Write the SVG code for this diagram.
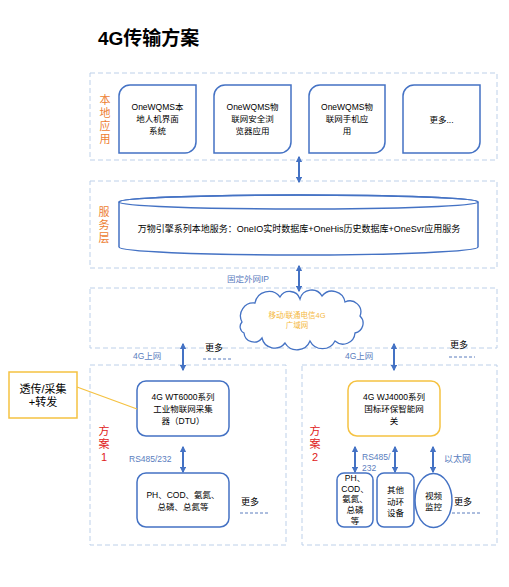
<svg xmlns="http://www.w3.org/2000/svg" width="509" height="587" viewBox="0 0 509 587">
<style>
text{font-family:"Liberation Sans","Noto Sans CJK SC",sans-serif;}
.t{font-size:8.5px;fill:#000;text-anchor:middle;}
.lbl{font-size:11px;fill:#ED7D31;text-anchor:middle;}
.red{font-size:11px;fill:#E02020;text-anchor:middle;}
.blue{font-size:8.5px;fill:#5A7DBE;}
.more{font-size:9px;fill:#000;}
.cont{fill:none;stroke:#BDD0E9;stroke-width:1;stroke-dasharray:5 3;}
.box{fill:#fff;stroke:#4472C4;stroke-width:1.5;}
.ybox{fill:#fff;stroke:#F5C242;stroke-width:1.5;}
.conn{stroke:#4472C4;stroke-width:2;fill:none;marker-start:url(#ah);marker-end:url(#ah);}
.dash{stroke:#5A7DBE;stroke-width:1;stroke-dasharray:3 2;fill:none;}
</style>
<defs>
<marker id="ah" viewBox="0 0 10 10" refX="8" refY="5" markerWidth="3.2" markerHeight="3.2" orient="auto-start-reverse" markerUnits="strokeWidth">
<path d="M0,0 L10,5 L0,10 Z" fill="#4472C4"/>
</marker>
</defs>
<rect width="509" height="587" fill="#fff"/>
<text x="98" y="45" style="font-size:19px;font-weight:bold;fill:#000;">4G传输方案</text>

<g id="containers">
<rect class="cont" x="90" y="73" width="407" height="87"/>
<rect class="cont" x="90" y="181" width="407" height="87"/>
<rect class="cont" x="90" y="288" width="407" height="60"/>
<rect class="cont" x="90" y="365" width="196" height="180"/>
<rect class="cont" x="302" y="365" width="195" height="180"/>
</g>

<g id="labels">
<text class="lbl" x="105" y="104">本</text>
<text class="lbl" x="105" y="117">地</text>
<text class="lbl" x="105" y="130">应</text>
<text class="lbl" x="105" y="143">用</text>
<text class="lbl" x="104" y="216">服</text>
<text class="lbl" x="104" y="229">务</text>
<text class="lbl" x="104" y="242">层</text>
<text class="red" x="104" y="435">方</text>
<text class="red" x="104" y="448">案</text>
<text class="red" x="104" y="461">1</text>
<text class="red" x="315" y="435">方</text>
<text class="red" x="315" y="448">案</text>
<text class="red" x="315" y="461">2</text>
</g>

<g id="app1">
<path class="box" d="M119,96 A11,11 0 0 1 130,85 H196 V142 A11,11 0 0 1 185,153 H119 Z"/>
<text class="t" x="157.5" y="110">OneWQMS本</text>
<text class="t" x="157.5" y="122">地人机界面</text>
<text class="t" x="157.5" y="134">系统</text>
</g>
<g id="app2">
<path class="box" d="M214,96 A11,11 0 0 1 225,85 H291 V142 A11,11 0 0 1 280,153 H214 Z"/>
<text class="t" x="252.5" y="110">OneWQMS物</text>
<text class="t" x="252.5" y="122">联网安全浏</text>
<text class="t" x="252.5" y="134">览器应用</text>
</g>
<g id="app3">
<path class="box" d="M309,96 A11,11 0 0 1 320,85 H385 V142 A11,11 0 0 1 374,153 H309 Z"/>
<text class="t" x="347" y="110">OneWQMS物</text>
<text class="t" x="347" y="122">联网手机应</text>
<text class="t" x="347" y="134">用</text>
</g>
<g id="app4">
<path class="box" d="M403,96 A11,11 0 0 1 414,85 H480 V142 A11,11 0 0 1 469,153 H403 Z"/>
<text class="t" x="441.5" y="123">更多...</text>
</g>

<g id="service">
<path class="box" d="M119,202 A179.5,7 0 0 1 478,202 V247 A179.5,8 0 0 1 119,247 Z"/>
<ellipse cx="298.5" cy="202" rx="179.5" ry="7" fill="none" stroke="#4472C4" stroke-width="1.5"/>
<text class="t" x="299" y="232" style="font-size:9px;">万物引擎系列本地服务：OneIO实时数据库+OneHis历史数据库+OneSvr应用服务</text>
</g>

<g id="cloud">
<path fill="#fff" stroke="#4472C4" stroke-width="1.3" d="M242,322 A13,13 0 0 1 255,303 A14,14 0 0 1 280,297 A11,11 0 0 1 300,299 A12,12 0 0 1 322,296 A13,13 0 0 1 345,302 A11,11 0 0 1 360,316 A10,10 0 0 1 355,333 A12,12 0 0 1 335,341 A14,14 0 0 1 310,341 A14,14 0 0 1 285,343 A13,13 0 0 1 262,338 A10,10 0 0 1 244,333 A7,7 0 0 1 242,322 Z"/>
<text x="297" y="318" style="font-size:7.5px;fill:#F5B942;text-anchor:middle;">移动/联通电信4G</text>
<text x="297" y="328" style="font-size:7.5px;fill:#F5B942;text-anchor:middle;">广域网</text>
</g>

<g id="callout">
<rect x="9" y="372" width="68" height="46" fill="#fff" stroke="#F5C242" stroke-width="1.5"/>
<text x="43" y="393" style="font-size:11px;fill:#000;text-anchor:middle;">透传/采集</text>
<text x="43" y="406" style="font-size:11px;fill:#000;text-anchor:middle;">+转发</text>
</g>

<g id="dtu">
<rect class="box" x="137" y="381" width="92" height="55" rx="9"/>
<text class="t" x="183" y="400">4G WT6000系列</text>
<text class="t" x="183" y="412">工业物联网采集</text>
<text class="t" x="183" y="424">器（DTU）</text>
</g>
<g id="sensors1">
<rect class="box" x="137" y="473" width="92" height="54" rx="9"/>
<text class="t" x="183" y="498">PH、COD、氨氮、</text>
<text class="t" x="183" y="510">总磷、总氮等</text>
</g>

<g id="gateway">
<rect class="ybox" x="348" y="381" width="92" height="55" rx="9"/>
<text class="t" x="394" y="400">4G WJ4000系列</text>
<text class="t" x="394" y="412">国标环保智能网</text>
<text class="t" x="394" y="424">关</text>
</g>
<g id="sensors2">
<rect class="box" x="337" y="473" width="36" height="54" rx="7"/>
<text class="t" x="355" y="481">PH、</text>
<text class="t" x="355" y="492">COD、</text>
<text class="t" x="355" y="502">氨氮、</text>
<text class="t" x="355" y="513">总磷</text>
<text class="t" x="355" y="524">等</text>
</g>
<g id="other">
<rect class="box" x="377" y="473" width="37" height="54" rx="7"/>
<text class="t" x="395.5" y="493">其他</text>
<text class="t" x="395.5" y="505">动环</text>
<text class="t" x="395.5" y="516">设备</text>
</g>
<g id="video">
<ellipse class="box" cx="433.5" cy="500.5" rx="18.5" ry="27"/>
<text class="t" x="433.5" y="499">视频</text>
<text class="t" x="433.5" y="510">监控</text>
</g>

<g id="connectors">
<line class="conn" x1="299" y1="157" x2="299" y2="182"/>
<line class="conn" x1="299" y1="266" x2="299" y2="291"/>
<line class="conn" x1="183" y1="344" x2="183" y2="370"/>
<line class="conn" x1="394" y1="344" x2="394" y2="370"/>
<line class="conn" x1="183" y1="447" x2="183" y2="472"/>
<line class="conn" x1="355" y1="447" x2="355" y2="472"/>
<line class="conn" x1="395" y1="447" x2="395" y2="472"/>
<line class="conn" x1="433" y1="447" x2="433" y2="472"/>
<line x1="77" y1="387" x2="137" y2="409" stroke="#F5C242" stroke-width="1.3"/>
</g>

<g id="annotations">
<text class="blue" x="227" y="282">固定外网IP</text>
<text class="blue" x="133" y="359">4G上网</text>
<text class="blue" x="345" y="359">4G上网</text>
<text class="blue" x="129" y="462">RS485/232</text>
<text class="blue" x="362" y="460">RS485/</text>
<text class="blue" x="362" y="471">232</text>
<text class="blue" x="444" y="462" style="font-size:9px;">以太网</text>
<text class="more" x="205" y="351">更多</text>
<path class="dash" d="M203,359 H232"/>
<text class="more" x="450" y="348">更多</text>
<path class="dash" d="M449,357 H475"/>
<text class="more" x="241" y="505">更多</text>
<path class="dash" d="M240,513 H268"/>
<text class="more" x="454" y="505">更多</text>
<path class="dash" d="M452,513 H480"/>
</g>
</svg>
